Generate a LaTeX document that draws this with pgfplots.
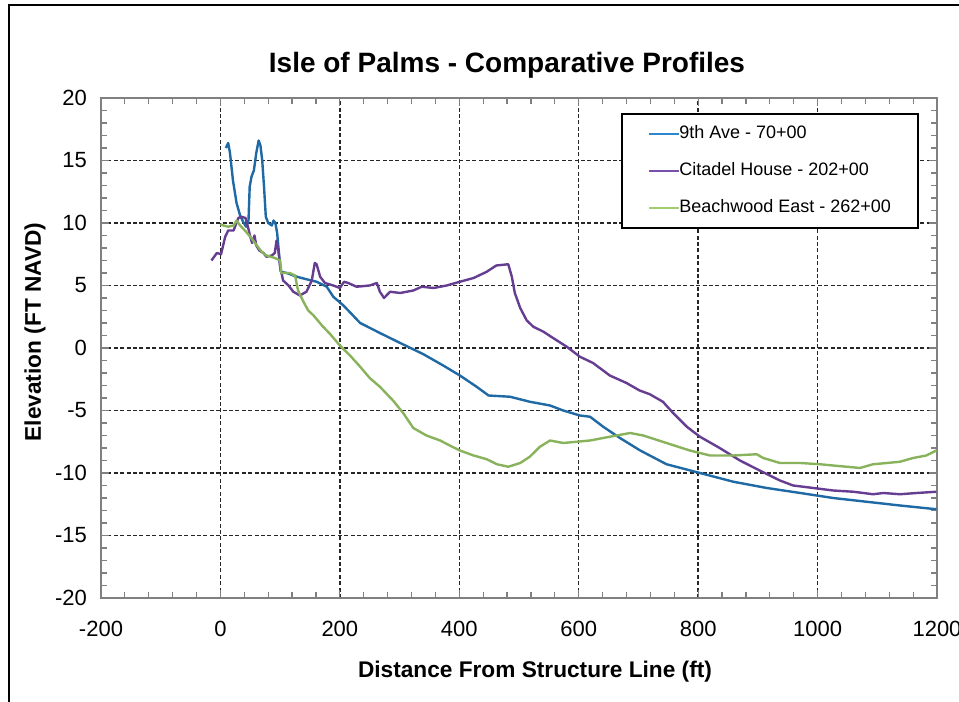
\documentclass[border=0pt]{standalone}
\usepackage{pgfplots}
\pgfplotsset{compat=1.18}
\usepackage{fontspec}
\setmainfont{Liberation Sans}
\definecolor{cblue}{RGB}{31,105,165}
\definecolor{cpurple}{RGB}{102,62,145}
\definecolor{cgreen}{RGB}{137,178,92}
\definecolor{lblue}{RGB}{45,135,205}
\definecolor{lpurple}{RGB}{120,80,170}
\definecolor{lgreen}{RGB}{160,205,110}
\definecolor{axgray}{RGB}{128,128,128}
\begin{document}
\begin{tikzpicture}
\useasboundingbox (0,0) rectangle (719.25pt,526.5pt);
\draw[line width=1.5pt] (7.1pt,-10pt) -- (7.1pt,522.75pt) -- (740pt,522.75pt);
\begin{axis}[
  at={(75.75pt,78pt)}, anchor=south west,
  width=627pt, height=375pt, scale only axis,
  xmin=-200, xmax=1200, ymin=-20, ymax=20,
  xtick={-200,0,...,1200}, ytick={-20,-15,...,20},
  minor x tick num=4, minor y tick num=4,
  tick align=inside,
  major tick length=6pt, minor tick length=4.5pt,
  every tick/.style={axgray, line width=0.9pt},
  grid=major,
  major grid style={black!85, line width=1pt, dash pattern=on 3pt off 1.8pt},
  axis line style={axgray, line width=1.2pt},
  /pgf/number format/assume math mode=true,
  /pgf/number format/1000 sep={},
  tick label style={font=\fontsize{16.5}{18}\selectfont},
  xticklabel style={yshift=-14pt},
  yticklabel style={xshift=-7pt},
  legend style={at={(0.622,0.97)}, anchor=north west, draw=black, line width=1.6pt,
    inner xsep=20pt, inner ysep=8.5pt, row sep=14.75pt,
    nodes={inner sep=0pt, text height=10pt, text depth=3pt},
    font=\fontsize{13.5}{15}\selectfont},
  legend cell align=left,
  legend image code/.code={\draw[#1] (0pt,0pt) -- (22pt,0pt);},
]
\addlegendimage{lblue, line width=1pt}
\addlegendentry{9th Ave - 70+00}
\addlegendimage{lpurple, line width=1pt}
\addlegendentry{Citadel House - 202+00}
\addlegendimage{lgreen, line width=1pt}
\addlegendentry{Beachwood East - 262+00}
\addplot[cblue, line width=1.8pt, line join=round, forget plot] coordinates {
(9,16.0) (13,16.4) (16,15.6) (21,13.4) (27,11.6) (33,10.6) (38,10.1) (43,9.7) (47,10.2) (49,12.9) (52,13.7) (56,14.2) (60,15.6) (64,16.6) (67,16.2) (70,15.0) (73,12.9) (76,10.5) (80,10.0) (86,9.8) (89,10.2) (92,10.0) (95,9.2) (98,7.6) (101,6.1) (111,6.0) (128,5.7) (144,5.5) (161,5.3) (178,4.9) (189,4.1) (206,3.4) (220,2.7) (234,2.0) (267,1.2) (301,0.4) (340,-0.5) (373,-1.4) (401,-2.2) (429,-3.1) (449,-3.8) (485,-3.9) (518,-4.3) (552,-4.6) (574,-5.0) (602,-5.4) (619,-5.5) (641,-6.3) (669,-7.2) (703,-8.2) (747,-9.3) (803,-10.0) (859,-10.7) (915,-11.2) (971,-11.6) (1026,-12.0) (1082,-12.3) (1138,-12.6) (1199,-12.9)
};
\addplot[cpurple, line width=1.8pt, line join=round, forget plot] coordinates {
(-15,7.0) (-6,7.6) (1,7.5) (8,8.9) (13,9.4) (22,9.4) (30,10.4) (35,10.5) (42,10.4) (46,9.7) (50,8.9) (53,8.4) (57,9.0) (60,8.2) (65,7.8) (72,7.6) (77,7.3) (86,7.4) (91,7.6) (94,8.6) (97,7.8) (100,6.5) (105,5.4) (114,5.0) (122,4.5) (133,4.2) (144,4.5) (153,5.4) (158,6.8) (161,6.7) (167,5.7) (175,5.2) (189,5.0) (200,4.8) (207,5.3) (214,5.2) (228,4.9) (250,5.0) (262,5.2) (267,4.5) (274,4.0) (284,4.5) (301,4.4) (323,4.6) (337,4.9) (357,4.8) (379,5.0) (401,5.3) (424,5.6) (446,6.1) (462,6.6) (482,6.7) (488,5.7) (493,4.4) (502,3.2) (513,2.2) (524,1.7) (541,1.3) (557,0.8) (580,0.1) (602,-0.7) (624,-1.2) (652,-2.2) (680,-2.8) (702,-3.4) (719,-3.7) (741,-4.3) (758,-5.2) (781,-6.3) (803,-7.1) (836,-8.0) (870,-9.0) (903,-9.8) (937,-10.6) (959,-11.0) (993,-11.2) (1026,-11.4) (1060,-11.5) (1093,-11.7) (1110,-11.6) (1138,-11.7) (1166,-11.6) (1199,-11.5)
};
\addplot[cgreen, line width=1.8pt, line join=round, forget plot] coordinates {
(0,9.9) (5,9.8) (13,9.7) (22,9.8) (27,10.2) (33,9.8) (41,9.4) (50,8.9) (61,8.2) (69,7.7) (77,7.4) (91,7.2) (100,7.0) (102,6.0) (116,6.0) (125,5.8) (130,4.6) (139,3.7) (147,3.0) (156,2.6) (170,1.8) (184,1.1) (200,0.2) (217,-0.6) (234,-1.5) (250,-2.4) (267,-3.1) (289,-4.2) (306,-5.2) (323,-6.4) (345,-7.0) (368,-7.4) (384,-7.8) (401,-8.2) (424,-8.6) (446,-8.9) (463,-9.3) (482,-9.5) (502,-9.2) (518,-8.7) (535,-7.9) (552,-7.4) (563,-7.5) (574,-7.6) (597,-7.5) (619,-7.4) (652,-7.1) (686,-6.8) (708,-7.0) (747,-7.6) (786,-8.2) (820,-8.6) (859,-8.6) (898,-8.5) (909,-8.8) (937,-9.2) (971,-9.2) (1004,-9.3) (1026,-9.4) (1049,-9.5) (1071,-9.6) (1093,-9.3) (1116,-9.2) (1138,-9.1) (1160,-8.8) (1182,-8.6) (1199,-8.2)
};
\end{axis}
\node[font=\fontsize{21}{25}\selectfont\bfseries] at (380.25pt,477.75pt) {Isle of Palms - Comparative Profiles};
\node[font=\fontsize{17}{20}\selectfont\bfseries] at (401.25pt,22.5pt) {Distance From Structure Line (ft)};
\node[font=\fontsize{17}{20}\selectfont\bfseries, rotate=90] at (26.25pt,277.5pt) {Elevation (FT NAVD)};
\end{tikzpicture}
\end{document}
